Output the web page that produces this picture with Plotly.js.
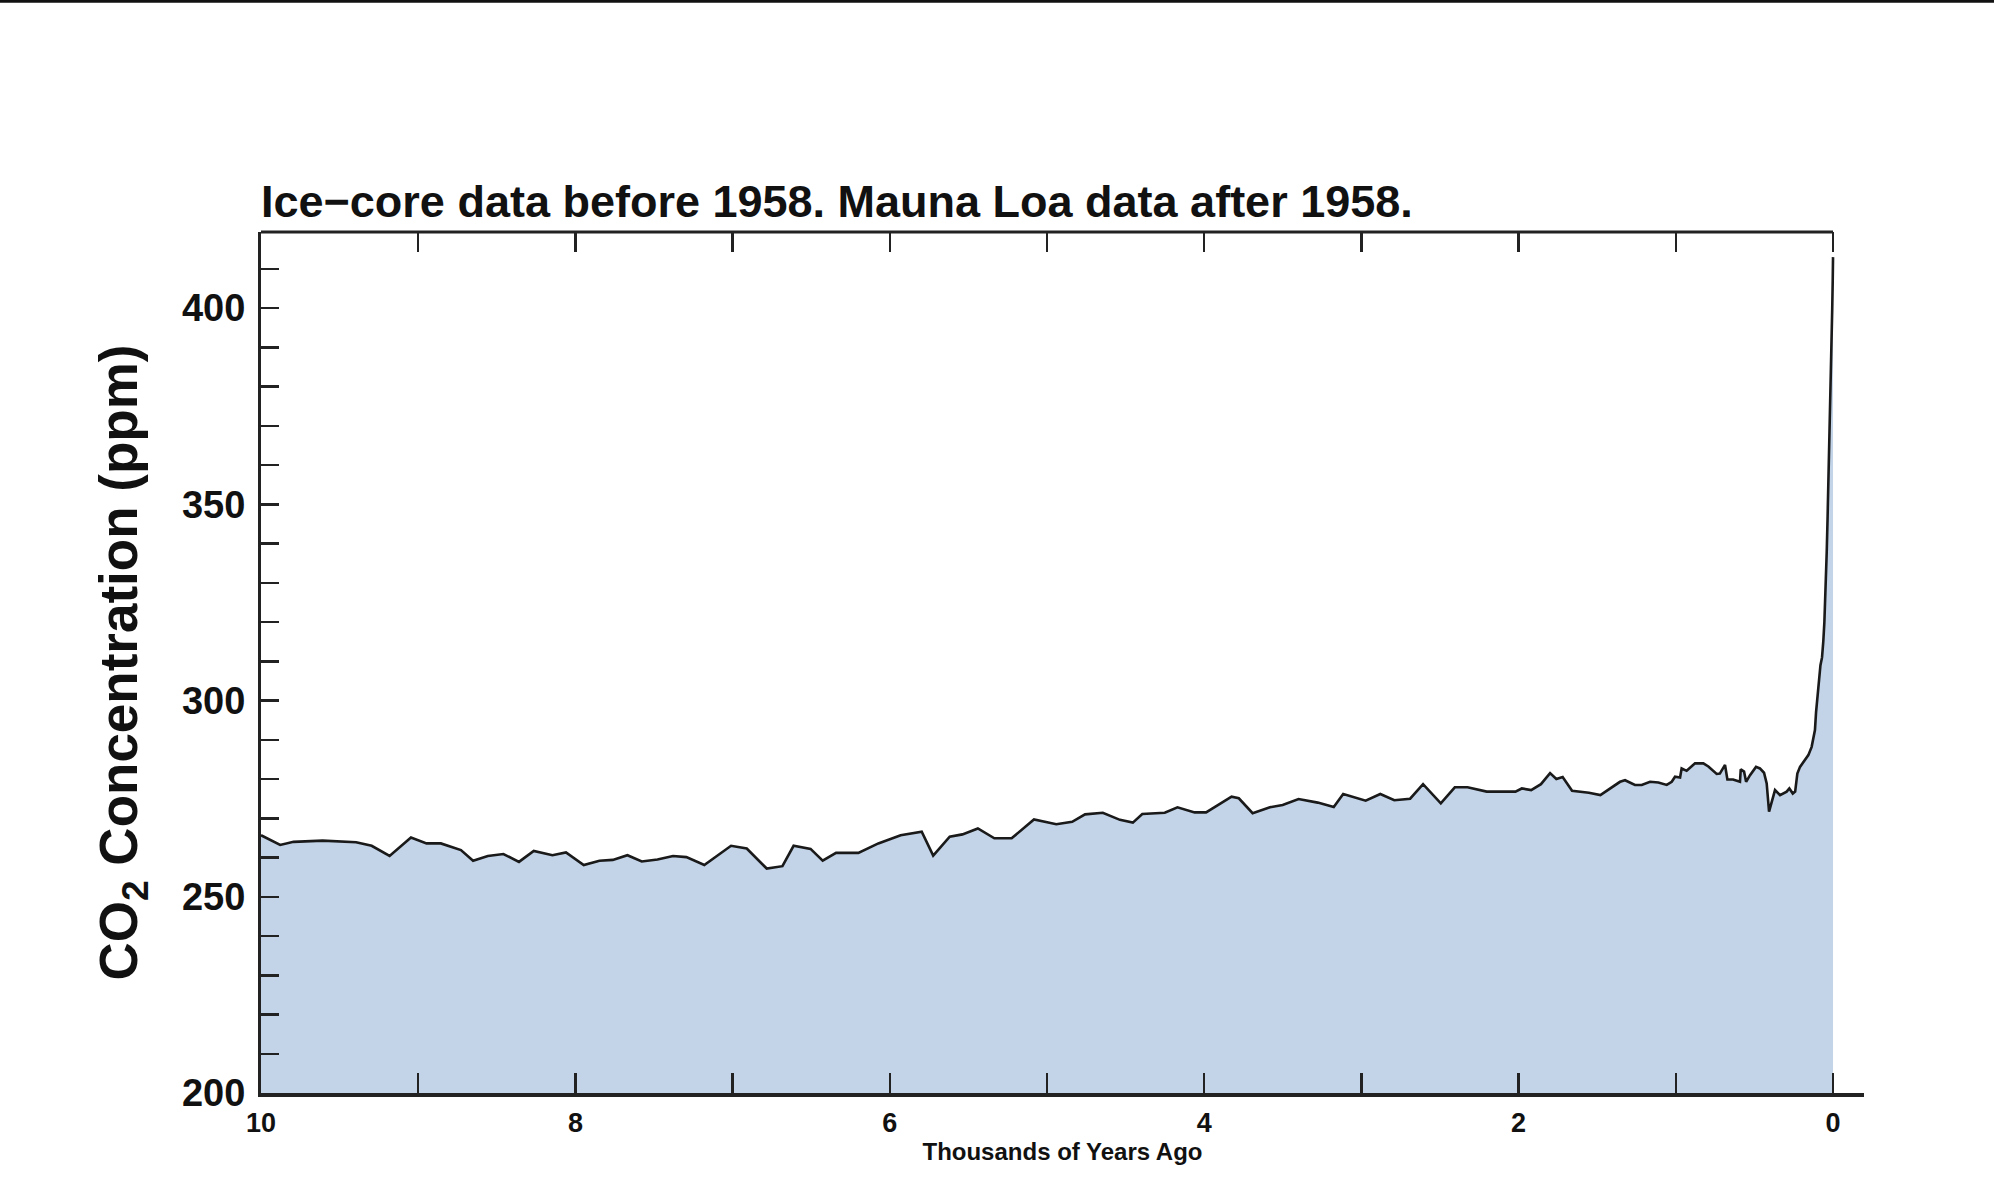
<!DOCTYPE html>
<html>
<head>
<meta charset="utf-8">
<script src="https://cdn.plot.ly/plotly-3.0.1.min.js"></script>
<style>
html,body{margin:0;padding:0;background:#fff;}
#chart{width:1994px;height:1202px;}
</style>
</head>
<body>
<div id="chart"></div>
<script>
// Thousands of years ago
const yearsAgo = [10.0, 9.878, 9.793, 9.608, 9.395, 9.296, 9.182, 9.046, 8.947, 8.856, 8.728, 8.651, 8.557, 8.458, 8.359, 8.265, 8.146, 8.060, 7.947, 7.847, 7.762, 7.669, 7.578, 7.478, 7.379, 7.294, 7.180, 7.010, 6.910, 6.783, 6.683, 6.612, 6.504, 6.427, 6.342, 6.200, 6.073, 5.931, 5.797, 5.724, 5.619, 5.538, 5.440, 5.335, 5.225, 5.083, 4.941, 4.840, 4.758, 4.645, 4.536, 4.454, 4.394, 4.251, 4.170, 4.061, 3.988, 3.826, 3.780, 3.692, 3.582, 3.501, 3.400, 3.278, 3.176, 3.116, 2.973, 2.880, 2.791, 2.690, 2.608, 2.495, 2.406, 2.325, 2.203, 2.020, 1.980, 1.920, 1.858, 1.800, 1.760, 1.720, 1.660, 1.553, 1.480, 1.430, 1.355, 1.323, 1.260, 1.217, 1.164, 1.111, 1.058, 1.026, 1.005, 0.973, 0.963, 0.931, 0.878, 0.825, 0.793, 0.740, 0.720, 0.687, 0.672, 0.636, 0.592, 0.587, 0.566, 0.553, 0.528, 0.490, 0.465, 0.439, 0.422, 0.407, 0.384, 0.369, 0.337, 0.295, 0.278, 0.256, 0.241, 0.227, 0.210, 0.193, 0.178, 0.157, 0.136, 0.115, 0.108, 0.100, 0.090, 0.080, 0.070, 0.065, 0.062, 0.055, 0.050, 0.045, 0.040, 0.035, 0.030, 0.025, 0.020, 0.015, 0.010, 0.005, 0.002, 0.0];
// CO2 concentration (ppm)
const co2 = [265.7, 263.2, 264.0, 264.3, 263.9, 263.0, 260.4, 265.1, 263.6, 263.6, 261.9, 259.2, 260.4, 260.9, 258.9, 261.7, 260.6, 261.3, 258.1, 259.2, 259.4, 260.6, 259.0, 259.5, 260.4, 260.1, 258.1, 263.0, 262.3, 257.2, 257.8, 263.0, 262.2, 259.2, 261.2, 261.2, 263.6, 265.7, 266.6, 260.5, 265.3, 265.9, 267.4, 264.9, 264.9, 269.7, 268.5, 269.1, 271.0, 271.4, 269.6, 268.9, 271.1, 271.4, 272.8, 271.5, 271.5, 275.5, 275.1, 271.3, 272.8, 273.4, 274.9, 274.0, 272.9, 276.2, 274.5, 276.2, 274.6, 275.0, 278.7, 273.8, 277.9, 277.9, 276.8, 276.8, 277.6, 277.2, 278.7, 281.5, 280.0, 280.5, 277.0, 276.5, 275.9, 277.2, 279.3, 279.7, 278.5, 278.5, 279.3, 279.1, 278.5, 279.3, 280.6, 280.4, 282.7, 282.1, 284.0, 284.0, 283.2, 281.3, 281.4, 283.6, 279.9, 279.9, 279.3, 282.5, 281.9, 279.3, 281.0, 283.1, 282.7, 281.6, 278.9, 271.7, 275.5, 277.2, 275.9, 276.8, 277.6, 276.3, 276.8, 281.4, 283.1, 284.0, 284.8, 286.1, 288.2, 292.5, 297.0, 301.0, 305.0, 309.0, 311.0, 313.0, 315.0, 320.0, 325.0, 331.0, 338.0, 346.0, 354.0, 361.0, 369.0, 378.0, 389.0, 400.0, 407.0, 413.0];

const xTickVals = [10, 9, 8, 7, 6, 5, 4, 3, 2, 1, 0];
const xTickText = ['10', ' ', '8', ' ', '6', ' ', '4', ' ', '2', ' ', '0'];
const yTickVals = [200, 210, 220, 230, 240, 250, 260, 270, 280, 290, 300, 310, 320, 330, 340, 350, 360, 370, 380, 390, 400, 410];
const yTickText = ['200', ' ', ' ', ' ', ' ', '250', ' ', ' ', ' ', ' ', '300', ' ', ' ', ' ', ' ', '350', ' ', ' ', ' ', ' ', '400', ' '];

const titleText = 'Ice\u2212core data before 1958. Mauna Loa data after 1958.';
const xTitle = 'Thousands of Years Ago';
const yTitle = 'CO<sub>2</sub> Concentration (ppm)';

const FONT = 'Liberation Sans, Arial, Helvetica, sans-serif';
const AX = '#222222';

const traces = [
  {
    x: yearsAgo, y: co2, type: 'scatter', mode: 'lines',
    line: {color: '#1a1a1a', width: 2.6},
    fill: 'tozeroy', fillcolor: 'rgb(195,212,232)',
    hoverinfo: 'skip', showlegend: false
  },
  {
    x: yearsAgo, y: co2, type: 'scatter', mode: 'lines',
    xaxis: 'x2', line: {width: 0, color: 'rgba(0,0,0,0)'},
    hoverinfo: 'skip', showlegend: false
  }
];

const layout = {
  width: 1994, height: 1202,
  margin: {l: 261, r: 130, t: 232, b: 109, pad: 0},
  paper_bgcolor: '#ffffff', plot_bgcolor: 'rgba(0,0,0,0)',
  showlegend: false,
  font: {family: FONT, color: '#111'},
  title: {
    text: '<b>' + titleText + '</b>',
    font: {family: FONT, size: 45, color: '#111'},
    xref: 'paper', x: 0, xanchor: 'left',
    yref: 'paper', y: 1, yanchor: 'bottom', pad: {b: 15}
  },
  xaxis: {
    range: [10, -0.197], showgrid: false, zeroline: false,
    showline: true, linecolor: AX, linewidth: 3.5,
    ticks: 'inside', ticklen: 20, tickwidth: 2.5, tickcolor: AX,
    tickmode: 'array', tickvals: xTickVals, ticktext: xTickText,
    tickfont: {family: FONT, size: 27, color: '#111', weight: 'bold'},
    ticklabelstandoff: 3,
    title: {text: '<b>' + xTitle + '</b>', font: {family: FONT, size: 24, color: '#111'}, standoff: 4},
    fixedrange: true
  },
  xaxis2: {
    overlaying: 'x', side: 'top', anchor: 'y',
    range: [10, -0.197], showgrid: false, zeroline: false, showline: false,
    ticks: 'inside', ticklen: 20, tickwidth: 2.5, tickcolor: AX,
    tickmode: 'array', tickvals: xTickVals, showticklabels: false,
    fixedrange: true
  },
  yaxis: {
    range: [200, 419.4], showgrid: false, zeroline: false,
    showline: true, linecolor: AX, linewidth: 3,
    ticks: 'inside', ticklen: 18, tickwidth: 2.5, tickcolor: AX,
    tickmode: 'array', tickvals: yTickVals, ticktext: yTickText,
    tickfont: {family: FONT, size: 38, color: '#111', weight: 'bold'},
    ticklabelstandoff: 5,
    title: {text: '<b>' + yTitle + '</b>', font: {family: FONT, size: 53, color: '#111'}, standoff: 28},
    fixedrange: true
  },
  shapes: [
    {type: 'line', xref: 'x', yref: 'paper', x0: 10, x1: 0, y0: 1, y1: 1,
     line: {color: AX, width: 3}},
    {type: 'line', xref: 'paper', yref: 'paper', x0: -0.2, x1: 1.1, y0: 1.268, y1: 1.268,
     line: {color: '#111', width: 3}}
  ]
};

Plotly.newPlot('chart', traces, layout, {displayModeBar: false, staticPlot: true});
</script>
</body>
</html>
